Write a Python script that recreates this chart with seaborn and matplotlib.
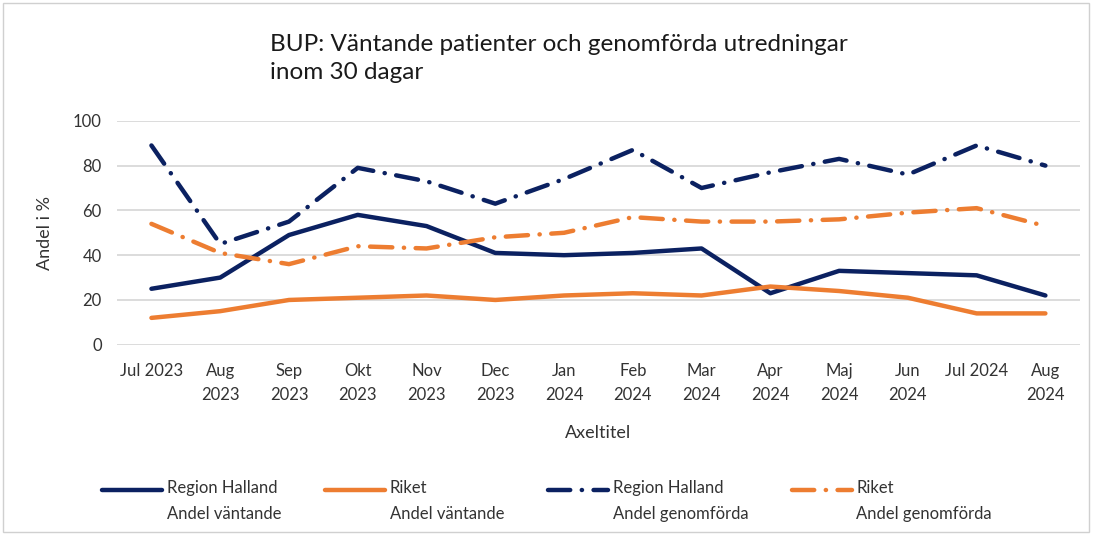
import pandas as pd
import matplotlib.pyplot as plt
import seaborn as sns
from matplotlib.patches import Rectangle
from matplotlib.legend_handler import HandlerLine2D

## Data
months = ['Jul 2023', 'Aug\n2023', 'Sep\n2023', 'Okt\n2023', 'Nov\n2023', 'Dec\n2023',
          'Jan\n2024', 'Feb\n2024', 'Mar\n2024', 'Apr\n2024', 'Maj\n2024', 'Jun\n2024',
          'Jul 2024', 'Aug\n2024']
halland_vantande = [25, 30, 49, 58, 53, 41, 40, 41, 43, 23, 33, 32, 31, 22]
riket_vantande = [12, 15, 20, 21, 22, 20, 22, 23, 22, 26, 24, 21, 14, 14]
halland_genomforda = [89, 45, 55, 79, 73, 63, 74, 87, 70, 77, 83, 76, 89, 80]
riket_genomforda = [54, 41, 36, 44, 43, 48, 50, 57, 55, 55, 56, 59, 61, 53]

navy = '#0b2161'
orange = '#ed7d31'

sns.set_style('white')
plt.rcParams['font.family'] = ['Lato', 'DejaVu Sans']

df = pd.DataFrame({'pos': range(len(months)),
                   'hv': halland_vantande, 'rv': riket_vantande,
                   'hg': halland_genomforda, 'rg': riket_genomforda})


# legend handle lined up with the first text line (like Excel)
class TopLine(HandlerLine2D):
    def create_artists(self, legend, orig_handle, xdescent, ydescent,
                       width, height, fontsize, trans):
        arts = super().create_artists(legend, orig_handle, xdescent, ydescent,
                                      width, height, fontsize, trans)
        for a in arts:
            a.set_ydata([y + fontsize * 0.72 for y in a.get_ydata()])
        return arts


fig = plt.figure(figsize=(10.94, 5.37), dpi=100)
ax = fig.add_axes([0.107, 0.358, 0.88, 0.417])

dashdot = (0, (5, 2.6, 0.05, 2.6))
lw = 3.2

sns.lineplot(data=df, x='pos', y='hv', color=navy, linewidth=lw, ax=ax,
             label='Region Halland\nAndel väntande')
sns.lineplot(data=df, x='pos', y='rv', color=orange, linewidth=lw, ax=ax,
             label='Riket\nAndel väntande')
sns.lineplot(data=df, x='pos', y='hg', color=navy, linewidth=lw, ax=ax,
             linestyle=dashdot, dash_capstyle='round',
             label='Region Halland\nAndel genomförda')
sns.lineplot(data=df, x='pos', y='rg', color=orange, linewidth=lw, ax=ax,
             linestyle=dashdot, dash_capstyle='round',
             label='Riket\nAndel genomförda')

ax.set_ylim(0, 100)
ax.set_yticks([0, 20, 40, 60, 80, 100])
ax.set_xlim(-0.5, len(months) - 0.5)
ax.set_xticks(range(len(months)))
ax.set_xticklabels(months, fontsize=12, color='#333333', linespacing=1.6)
ax.tick_params(axis='y', labelsize=12, colors='#333333', length=0, pad=11)
ax.tick_params(axis='x', length=0, pad=13)
ax.yaxis.grid(True, color='#d9d9d9', linewidth=1.3)
for s in ax.spines.values():
    s.set_visible(False)

ax.set_xlabel('Axeltitel', fontsize=13, color='#333333', labelpad=16)
ax.set_ylabel('Andel i %', fontsize=13, color='#333333', labelpad=14)

fig.text(0.247, 0.845, 'BUP: Väntande patienter och genomförda utredningar\ninom 30 dagar',
         fontsize=17.5, color='#1a1a1a', ha='left', va='bottom', linespacing=1.45)

ax.get_legend().remove()
handles, labels = ax.get_legend_handles_labels()
leg = fig.legend(handles, labels, ncol=4, loc='lower center', bbox_to_anchor=(0.5, 0.0),
                 frameon=False, fontsize=12, handlelength=3.6, handletextpad=0.3,
                 columnspacing=2.6, labelcolor='#333333', alignment='left',
                 handler_map={h: TopLine() for h in handles})
for t in leg.get_texts():
    t.set_linespacing(1.75)

fig.add_artist(Rectangle((0.003, 0.01), 0.992, 0.985, transform=fig.transFigure,
                         fill=False, edgecolor='#d0d0d0', linewidth=1))

fig.savefig('out.png', dpi=100)
